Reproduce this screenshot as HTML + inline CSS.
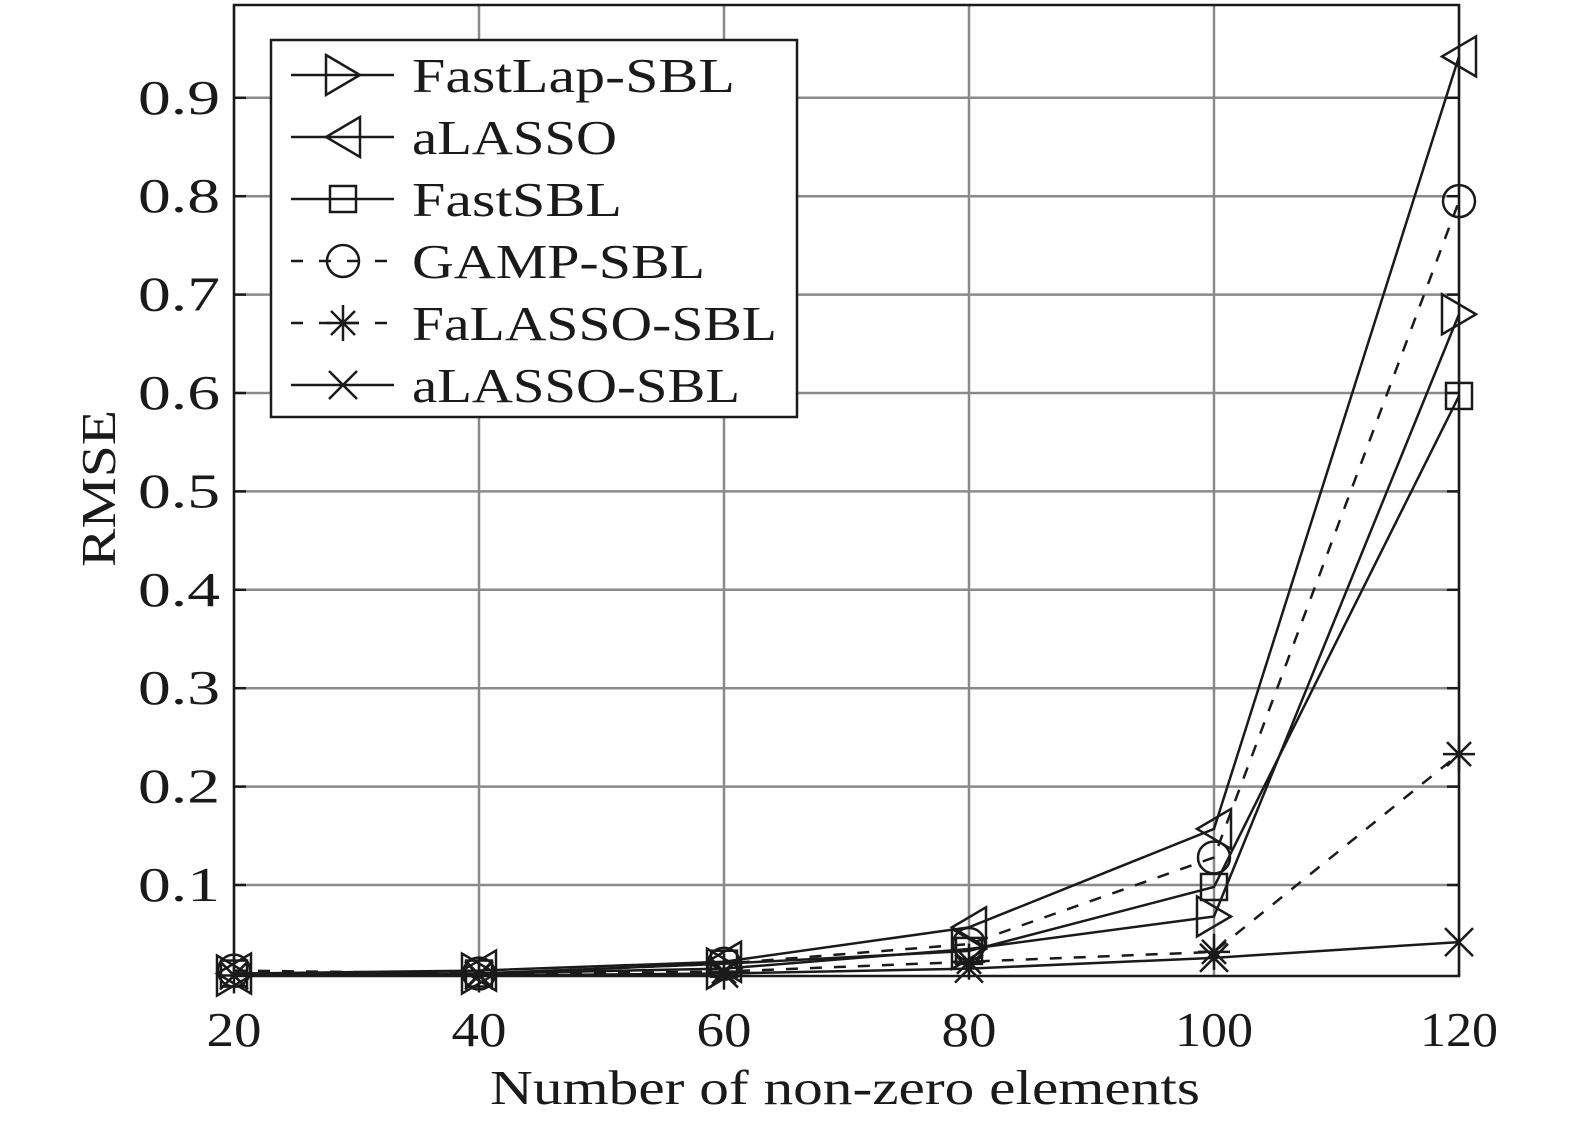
<!DOCTYPE html>
<html><head><meta charset="utf-8"><style>
html,body{margin:0;padding:0;background:#fff;}
svg text{font-family:"Liberation Serif",serif;fill:#1a1a1a;}
</style></head><body>
<svg id="chart" width="1575" height="1130" viewBox="0 0 1575 1130" xmlns="http://www.w3.org/2000/svg">
<g id="grid"></g>
<g id="series"></g>
<rect x="234" y="5" width="1225" height="971" fill="none" stroke="#1a1a1a" stroke-width="2.5"/>
<g id="ticks"></g>
<text x="490" y="1104" font-size="49" textLength="710" lengthAdjust="spacingAndGlyphs">Number of non-zero elements</text>
<text x="0" y="0" font-size="49" textLength="157" lengthAdjust="spacingAndGlyphs" transform="translate(115,567) rotate(-90)">RMSE</text>
<g id="legend"></g>
</svg>
<script>
const categories=[20,40,60,80,100,120];
const fastLap=[0.008,0.010,0.015,0.035,0.068,0.680];
const aLasso=[0.010,0.013,0.022,0.057,0.157,0.942];
const fastSbl=[0.010,0.010,0.020,0.033,0.098,0.597];
const gampSbl=[0.013,0.010,0.020,0.040,0.128,0.795];
const faLassoSbl=[0.008,0.009,0.012,0.022,0.032,0.233];
const aLassoSbl=[0.008,0.008,0.010,0.015,0.026,0.042];
const seriesNames=["FastLap-SBL","aLASSO","FastSBL","GAMP-SBL","FaLASSO-SBL","aLASSO-SBL"];
const yTicks=[0.1,0.2,0.3,0.4,0.5,0.6,0.7,0.8,0.9];
const xTicks=[20,40,60,80,100,120];

const NS="http://www.w3.org/2000/svg";
function xs(v){return 234+(v-20)*1225/100;}
function ys(v){return 983.4-v*984;}
function mk(tag,attrs,parent){const e=document.createElementNS(NS,tag);for(const k in attrs)e.setAttribute(k,attrs[k]);parent.appendChild(e);return e;}
const grid=document.getElementById('grid'),ticks=document.getElementById('ticks'),ser=document.getElementById('series'),leg=document.getElementById('legend');
xTicks.forEach(v=>{
  const l=mk('line',{x1:xs(v),x2:xs(v),y1:5,y2:976,stroke:'#8a8a8a','stroke-width':2.5},grid);
  
  
  const s=String(v);
  const w=s.length===3?78:55;
  const t=mk('text',{x:xs(v)-w/2,y:1046,'font-size':49,textLength:w,lengthAdjust:'spacingAndGlyphs'},ticks);
  t.textContent=s;
  
  
});
yTicks.forEach(v=>{
  const l=mk('line',{x1:234,x2:1459,y1:ys(v),y2:ys(v),stroke:'#8a8a8a','stroke-width':2.5},grid);
  
  
  mk('line',{x1:234,x2:246,y1:ys(v),y2:ys(v),stroke:'#1a1a1a','stroke-width':2.5},ticks);
  mk('line',{x1:1447,x2:1459,y1:ys(v),y2:ys(v),stroke:'#1a1a1a','stroke-width':2.5},ticks);
  const t=mk('text',{x:138,y:ys(v)+16,'font-size':49,textLength:82,lengthAdjust:'spacingAndGlyphs'},ticks);
  t.textContent=v.toFixed(1);
  
  
});
function marker(type,cx,cy,p){
  const st={fill:'none',stroke:'#1a1a1a','stroke-width':2.5};
  let e;
  if(type==='rt'){e=mk('polygon',Object.assign({points:`${cx-17},${cy-20} ${cx+17},${cy} ${cx-17},${cy+20}`},st),p);}
  else if(type==='lt'){e=mk('polygon',Object.assign({points:`${cx+17},${cy-20} ${cx-17},${cy} ${cx+17},${cy+20}`},st),p);}
  else if(type==='sq'){e=mk('rect',Object.assign({x:cx-13,y:cy-13,width:26,height:26},st),p);}
  else if(type==='ci'){e=mk('circle',Object.assign({cx:cx,cy:cy,r:16},st),p);}
  else if(type==='st'){e=mk('path',Object.assign({d:`M${cx-16} ${cy}H${cx+16}M${cx} ${cy-18}V${cy+18}M${cx-12} ${cy-12}L${cx+12} ${cy+12}M${cx-12} ${cy+12}L${cx+12} ${cy-12}`},st),p);}
  else {e=mk('path',Object.assign({d:`M${cx-14} ${cy-14}L${cx+14} ${cy+14}M${cx-14} ${cy+14}L${cx+14} ${cy-14}`},st),p);}
  
  
}
const all=[fastLap,aLasso,fastSbl,gampSbl,faLassoSbl,aLassoSbl];
const types=['rt','lt','sq','ci','st','x'];
const dashes=[null,null,null,'12,12','12,12',null];
const legendWidths=[323,205,210,293,365,328];
all.forEach((vals,i)=>{
  const g=mk('g',{},ser);
  
  
  const pts=vals.map((v,j)=>xs(categories[j])+','+ys(v)).join(' ');
  const a={points:pts,fill:'none',stroke:'#1a1a1a','stroke-width':2.5};
  if(dashes[i])a['stroke-dasharray']=dashes[i];
  const pl=mk('polyline',a,g);
  
  
  vals.forEach((v,j)=>marker(types[i],xs(categories[j]),ys(v),g));
});
const lb=mk('rect',{x:271,y:40,width:526,height:377,fill:'#fff',stroke:'#1a1a1a','stroke-width':2.5},leg);


seriesNames.forEach((n,i)=>{
  const y=75+i*62;
  const g=mk('g',{},leg);
  
  
  const a={x1:291,x2:394,y1:y,y2:y,stroke:'#1a1a1a','stroke-width':2.5};
  if(dashes[i])a['stroke-dasharray']='12,16';
  mk('line',a,g);
  marker(types[i],343,y,g);
  const t=mk('text',{x:412,y:y+17,'font-size':49,textLength:legendWidths[i],lengthAdjust:'spacingAndGlyphs'},g);
  t.textContent=n;
  
  
});
</script>
</body></html>
